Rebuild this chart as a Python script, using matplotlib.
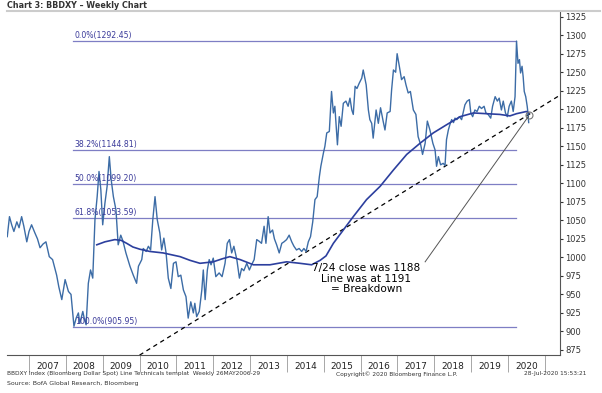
import matplotlib
matplotlib.use("Agg")
from matplotlib import pyplot as plt
from matplotlib.lines import Line2D

# weekly BBDXY close (decimal year, level)
px_years = [2006.41, 2006.47, 2006.53, 2006.59, 2006.67, 2006.73, 2006.80, 2006.86, 2006.94, 2007.00,
            2007.07, 2007.16, 2007.23, 2007.30, 2007.38, 2007.46, 2007.55, 2007.64, 2007.75, 2007.81,
            2007.89, 2007.98, 2008.07, 2008.14, 2008.22, 2008.28, 2008.34, 2008.38, 2008.46, 2008.51,
            2008.55, 2008.61, 2008.67, 2008.73, 2008.79, 2008.85, 2008.90, 2008.95, 2009.00, 2009.06,
            2009.12, 2009.18, 2009.23, 2009.29, 2009.36, 2009.42, 2009.49, 2009.55, 2009.63, 2009.74,
            2009.83, 2009.92, 2009.97, 2010.06, 2010.10, 2010.18, 2010.24, 2010.30, 2010.36, 2010.42,
            2010.48, 2010.55, 2010.60, 2010.66, 2010.72, 2010.78, 2010.85, 2010.92, 2010.99, 2011.05,
            2011.12, 2011.19, 2011.26, 2011.32, 2011.39, 2011.46, 2011.50, 2011.55, 2011.62, 2011.69,
            2011.73, 2011.78, 2011.84, 2011.89, 2011.94, 2012.00, 2012.07, 2012.16, 2012.24, 2012.32,
            2012.38, 2012.44, 2012.50, 2012.56, 2012.64, 2012.71, 2012.77, 2012.83, 2012.91, 2012.98,
            2013.04, 2013.11, 2013.18, 2013.24, 2013.31, 2013.38, 2013.43, 2013.49, 2013.54, 2013.61,
            2013.66, 2013.72, 2013.79, 2013.86, 2013.92, 2013.99, 2014.06, 2014.13, 2014.19, 2014.26,
            2014.33, 2014.40, 2014.46, 2014.52, 2014.58, 2014.64, 2014.70, 2014.76, 2014.82, 2014.88,
            2014.92, 2014.99, 2015.03, 2015.08, 2015.15, 2015.21, 2015.26, 2015.30, 2015.37, 2015.42,
            2015.47, 2015.53, 2015.60, 2015.66, 2015.71, 2015.76, 2015.80, 2015.85, 2015.90, 2015.96,
            2016.03, 2016.07, 2016.15, 2016.21, 2016.25, 2016.30, 2016.34, 2016.42, 2016.48, 2016.54,
            2016.61, 2016.66, 2016.72, 2016.80, 2016.84, 2016.89, 2016.95, 2016.99, 2017.05, 2017.11,
            2017.18, 2017.23, 2017.29, 2017.35, 2017.43, 2017.50, 2017.56, 2017.63, 2017.68, 2017.75,
            2017.81, 2017.88, 2017.96, 2018.02, 2018.06, 2018.11, 2018.17, 2018.24, 2018.29, 2018.33,
            2018.38, 2018.42, 2018.47, 2018.52, 2018.56, 2018.61, 2018.68, 2018.74, 2018.79, 2018.83,
            2018.89, 2018.95, 2018.99, 2019.04, 2019.10, 2019.16, 2019.22, 2019.28, 2019.35, 2019.40,
            2019.46, 2019.53, 2019.58, 2019.65, 2019.71, 2019.76, 2019.82, 2019.87, 2019.93, 2019.98,
            2020.03, 2020.09, 2020.14, 2020.19, 2020.21, 2020.23, 2020.27, 2020.31, 2020.34, 2020.38,
            2020.41, 2020.44, 2020.48, 2020.52, 2020.54, 2020.56]
px_vals = [1028, 1055, 1044, 1035, 1048, 1040, 1055, 1042, 1021, 1035,
           1044, 1033, 1025, 1013, 1018, 1021, 1001, 997, 976, 960,
           943, 970, 954, 950, 907, 918, 925, 911, 927, 915,
           909, 965, 983, 972, 1051, 1082, 1116, 1091, 1044, 1073,
           1096, 1136, 1105, 1082, 1064, 1017, 1030, 1022, 1006, 988,
           976, 965, 988, 997, 1012, 1008, 1015, 1010, 1051, 1082,
           1051, 1033, 1010, 1026, 1006, 972, 958, 992, 994, 974,
           976, 956, 947, 918, 940, 925, 938, 920, 927, 956,
           983, 943, 983, 997, 990, 999, 974, 979, 974, 992,
           1019, 1024, 1006, 1015, 997, 972, 985, 982, 992, 983,
           990, 997, 1024, 1022, 1019, 1042, 1019, 1055, 1033, 1037,
           1025, 1017, 1006, 1019, 1021, 1024, 1030, 1021, 1015, 1010,
           1012, 1008, 1012, 1008, 1021, 1028, 1048, 1078, 1082, 1109,
           1123, 1141, 1150, 1168, 1170, 1224, 1195, 1204, 1152, 1190,
           1177, 1208, 1211, 1204, 1215, 1199, 1193, 1231, 1228, 1235,
           1242, 1253, 1233, 1199, 1186, 1181, 1161, 1199, 1181, 1202,
           1184, 1172, 1195, 1197, 1226, 1253, 1250, 1275, 1258, 1240,
           1244, 1233, 1222, 1224, 1199, 1193, 1163, 1152, 1139, 1154,
           1184, 1172, 1154, 1145, 1123, 1136, 1125, 1127, 1124, 1159,
           1172, 1179, 1186, 1182, 1188, 1186, 1190, 1186, 1197, 1206,
           1211, 1213, 1195, 1190, 1199, 1197, 1204, 1201, 1204, 1195,
           1193, 1188, 1204, 1217, 1211, 1215, 1199, 1211, 1195, 1190,
           1204, 1211, 1197, 1217, 1253, 1292, 1262, 1267, 1249, 1258,
           1244, 1224, 1217, 1204, 1195, 1182]

# moving average line
ma_years = [2008.84, 2009.06, 2009.33, 2009.50, 2009.65, 2009.82, 2010.01, 2010.28, 2010.64, 2011.10,
            2011.37, 2011.64, 2012.00, 2012.24, 2012.45, 2012.73, 2013.09, 2013.54, 2013.99, 2014.35,
            2014.67, 2014.90, 2015.06, 2015.26, 2015.53, 2015.80, 2016.16, 2016.53, 2016.89, 2017.25,
            2017.61, 2017.97, 2018.33, 2018.70, 2019.06, 2019.42, 2019.78, 2020.05, 2020.23, 2020.50,
            2020.56]
ma_vals = [1017, 1021, 1024, 1023, 1019, 1014, 1011, 1008, 1006, 1001,
           996, 992, 994, 998, 1001, 997, 990, 990, 994, 992,
           990, 996, 1002, 1019, 1037, 1055, 1078, 1096, 1118, 1139,
           1154, 1168, 1179, 1190, 1195, 1194, 1193, 1191, 1194, 1197,
           1195]

# retracement levels
fib_labels = ["0.0%", "38.2%", "50.0%", "61.8%", "100.0%"]
fib_vals = [1292.45, 1144.81, 1099.20, 1053.59, 905.95]
fib_start, fib_end = 2008.19, 2020.22

# trend line
trend_years = [2010.0, 2021.41]
trend_vals = [868, 1219]

years = list(range(2007, 2021))
yticks = list(range(875, 1326, 25))

fig = plt.figure(figsize=(6.02, 3.93), dpi=100)
ax = fig.add_axes([7 / 602, 1 - 355 / 393, 553 / 602, 343 / 393])
ax.set_xlim(2006.403, 2021.41)
ax.set_ylim(868.2, 1331.3)

for lab, v in zip(fib_labels, fib_vals):
    ax.plot([fib_start, fib_end], [v, v], color="#7e7ec4", lw=0.9)
    ax.text(fib_start + 0.05, v + 1, "%s(%.2f)" % (lab, v), fontsize=5.6,
            color="#3a3a9a", va="bottom", ha="left")

ax.plot(trend_years, trend_vals, color="black", lw=0.9, ls=(0, (3.5, 3)))
ax.plot(px_years, px_vals, color="#3c6ca6", lw=1.0)
ax.plot(ma_years, ma_vals, color="#2c3f9e", lw=1.2)

# breakdown annotation
end_year = px_years[-1]
trend_at_end = trend_vals[0] + (trend_vals[1] - trend_vals[0]) * (end_year - trend_years[0]) / (trend_years[1] - trend_years[0])
ax.plot([end_year], [trend_at_end], marker="o", ms=5, mfc="none", mec="#777777", mew=0.8)
ax.plot([2017.75, end_year], [994, trend_at_end - 2], color="#555555", lw=0.7)
ax.text(2016.15, 971, "7/24 close was 1188\nLine was at 1191\n= Breakdown",
        ha="center", va="center", fontsize=7.6, linespacing=1.05, multialignment="center")

# axes styling
for s in ["left", "top"]:
    ax.spines[s].set_visible(False)
ax.spines["right"].set_color("#555555")
ax.spines["bottom"].set_color("#555555")
ax.yaxis.tick_right()
ax.set_yticks(yticks)
ax.set_yticklabels([str(t) for t in yticks])
ax.tick_params(axis="y", direction="out", length=2.5, width=0.8, pad=1.5,
               labelsize=6, colors="#333333")
ax.set_xticks(years + [2021])
ax.set_xticklabels([])
ax.tick_params(axis="x", which="major", direction="out", length=12, width=0.6, color="#999999")
ax.set_xticks([y + 0.5 for y in years], minor=True)
ax.set_xticklabels([str(y) for y in years], minor=True)
ax.tick_params(axis="x", which="minor", length=0, pad=5, labelsize=6.5, labelcolor="#222222")

# header and footer
fig.text(7 / 602, 1 - 6 / 393, "Chart 3: BBDXY \u2013 Weekly Chart", fontsize=5.8,
         fontweight="bold", color="#333333", va="center", ha="left")
fig.add_artist(Line2D([7 / 602, 600 / 602], [1 - 11 / 393, 1 - 11 / 393],
                      color="#cccccc", lw=1.5))
fig.text(7 / 602, 1 - 374 / 393,
         "BBDXY Index (Bloomberg Dollar Spot) Line Technicals templat  Weekly 26MAY2006-29",
         fontsize=4.2, color="#333333", va="center", ha="left")
fig.text(397 / 602, 1 - 374 / 393, "Copyright\u00a9 2020 Bloomberg Finance L.P.",
         fontsize=4.2, color="#333333", va="center", ha="center")
fig.text(586 / 602, 1 - 374 / 393, "28-Jul-2020 15:53:21",
         fontsize=4.2, color="#333333", va="center", ha="right")
fig.text(7 / 602, 1 - 384 / 393, "Source: BofA Global Research, Bloomberg",
         fontsize=4.5, color="#333333", va="center", ha="left")

fig.savefig("out.png", dpi=100)
